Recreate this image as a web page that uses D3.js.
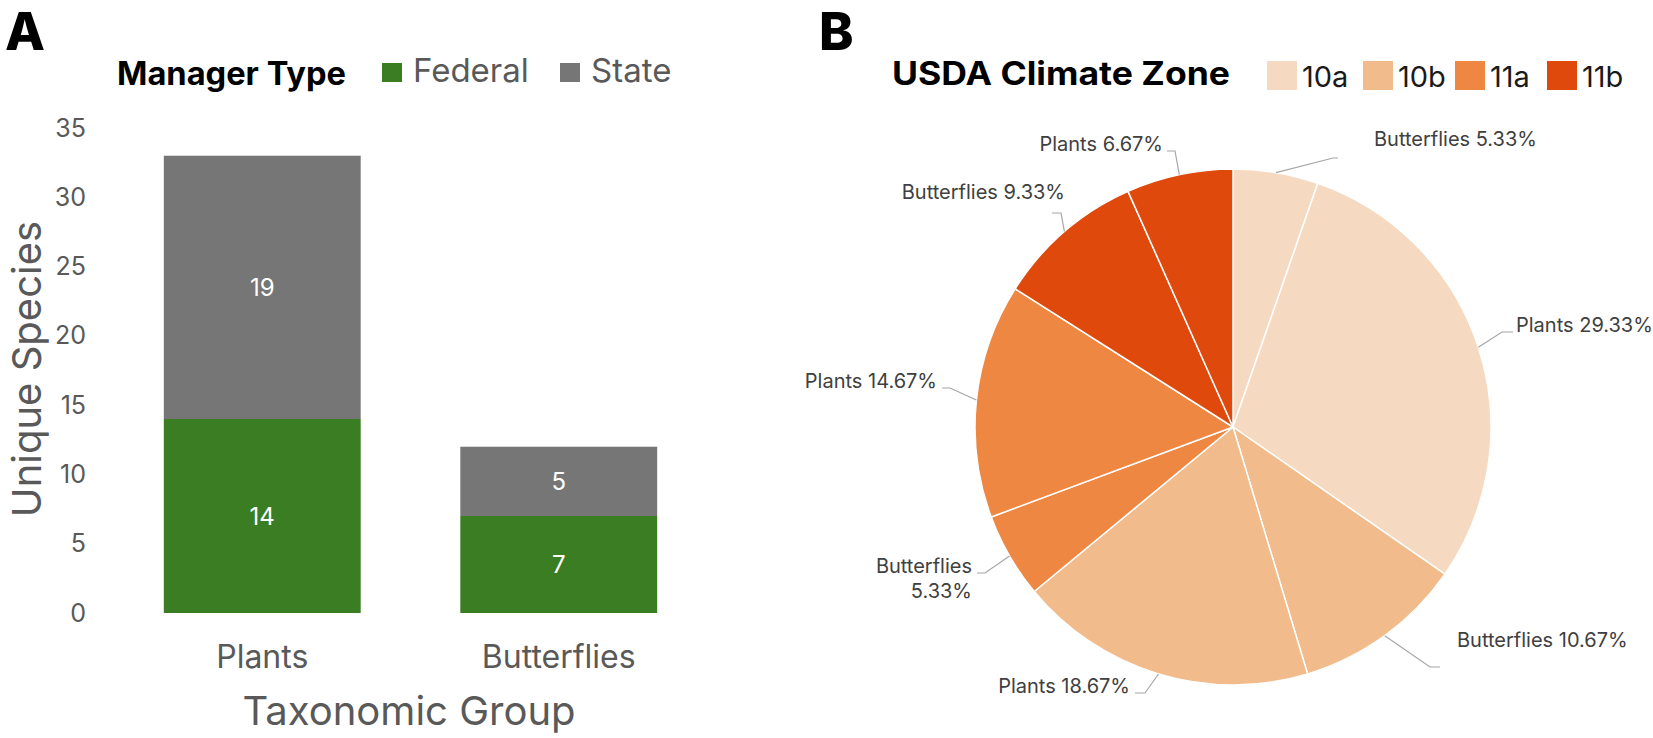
<!DOCTYPE html>
<html>
<head>
<meta charset="utf-8">
<script src="https://cdn.jsdelivr.net/npm/d3@7"></script>
<style>
  html, body { margin: 0; padding: 0; background: #fff; }
  svg { display: block; }
  text { font-family: Inter, "Open Sans", sans-serif; }
</style>
</head>
<body>
<svg id="chart" width="1653" height="738"></svg>
<script>
// ---------- Data ----------
const groups = ["Plants", "Butterflies"];
const managerTypes = ["Federal", "State"];
const federalValues = [14, 7];
const stateValues = [19, 5];
const yTicks = [0, 5, 10, 15, 20, 25, 30, 35];

const zones = ["10a", "10b", "11a", "11b"];
const sliceZones = ["10a", "10a", "10b", "10b", "11a", "11a", "11b", "11b"];
const sliceGroups = ["Butterflies", "Plants", "Butterflies", "Plants", "Butterflies", "Plants", "Butterflies", "Plants"];
const slicePercents = [5.33, 29.33, 10.67, 18.67, 5.33, 14.67, 9.33, 6.67];

// ---------- Styles ----------
const barColors = { Federal: "#3b7d23", State: "#767676" };
const zoneColors = { "10a": "#f6d9c1", "10b": "#f1bb8b", "11a": "#ee8742", "11b": "#e0490c" };

const svg = d3.select("#chart");

// Panel letters
svg.append("text").attr("x", 5).attr("y", 50).text("A")
  .style("font-weight", 800).style("font-size", "52px").attr("fill", "#000");
svg.append("text").attr("x", 819).attr("y", 50).text("B")
  .style("font-weight", 800).style("font-size", "52px").attr("fill", "#000");

// ---------- Panel A: stacked bars ----------
const y = d3.scaleLinear().domain([0, 35]).range([613, 128]);
const x = d3.scaleBand().domain(groups).range([114, 707]).paddingInner(0.336).paddingOuter(0.168);

const stackData = groups.map((g, i) => ({ group: g, Federal: federalValues[i], State: stateValues[i] }));
const series = d3.stack().keys(managerTypes)(stackData);

const gBars = svg.append("g");
series.forEach(s => {
  gBars.selectAll(null).data(s).enter().append("rect")
    .attr("x", d => x(d.data.group))
    .attr("width", x.bandwidth())
    .attr("y", d => y(d[1]))
    .attr("height", d => y(d[0]) - y(d[1]))
    .attr("fill", barColors[s.key]);
  gBars.selectAll(null).data(s).enter().append("text")
    .attr("x", d => x(d.data.group) + x.bandwidth() / 2)
    .attr("y", d => y((d[0] + d[1]) / 2))
    .attr("dy", "0.36em")
    .attr("text-anchor", "middle")
    .attr("fill", "#fff")
    .style("font-size", "24px")
    .text(d => d[1] - d[0]);
});

// Y axis
const yAxis = d3.axisLeft(y).tickValues(yTicks).tickSize(0).tickPadding(8);
const gy = svg.append("g").attr("transform", "translate(94,0)").call(yAxis);
gy.select(".domain").remove();
gy.selectAll("text").style("font-family", "Inter, sans-serif").style("font-size", "25px").attr("fill", "#595959");

// X axis labels
const xAxis = d3.axisBottom(x).tickSize(0).tickPadding(0);
const gx = svg.append("g").attr("transform", "translate(0,645)").call(xAxis);
gx.select(".domain").remove();
gx.selectAll("text").style("font-family", "Inter, sans-serif").style("font-size", "32px")
  .attr("fill", "#595959").attr("dy", "0.71em");

// Axis titles
svg.append("text").attr("x", 409).attr("y", 725).attr("text-anchor", "middle")
  .style("font-size", "40px").attr("fill", "#595959").text("Taxonomic Group");
svg.append("text").attr("transform", "translate(41,369) rotate(-90)").attr("text-anchor", "middle")
  .style("font-size", "40px").attr("fill", "#595959").text("Unique Species");

// Legend A
svg.append("text").attr("x", 117).attr("y", 85).text("Manager Type")
  .style("font-weight", 700).style("font-size", "32px").attr("fill", "#000")
  .attr("textLength", 229).attr("lengthAdjust", "spacingAndGlyphs");
const legAswatchX = [382, 560];
managerTypes.forEach((m, i) => {
  svg.append("rect").attr("x", legAswatchX[i]).attr("y", 63).attr("width", 20).attr("height", 19).attr("fill", barColors[m]);
  svg.append("text").attr("x", legAswatchX[i] + 31).attr("y", 82).style("font-size", "33px").attr("fill", "#595959").text(m);
});

// ---------- Panel B: pie ----------
const cx = 1233, cy = 427, R = 258;
const pieData = slicePercents.map((p, i) => ({ value: p, zone: sliceZones[i], group: sliceGroups[i] }));
const pie = d3.pie().sort(null).value(d => d.value);
const arcs = pie(pieData);
const arc = d3.arc().innerRadius(0).outerRadius(R);

const gPie = svg.append("g").attr("transform", `translate(${cx},${cy})`);
gPie.selectAll("path").data(arcs).enter().append("path")
  .attr("d", arc)
  .attr("fill", d => zoneColors[d.data.zone])
  .attr("stroke", "#fff").attr("stroke-width", 1.5).attr("stroke-linejoin", "round");

// Label layout (elbow & text placement relative to pie centre)
const labelLayout = [
  { ex: 100, ey: -269, hx: 105, tx: 141, ty: -281, anchor: "start" },
  { ex: 269, ey: -95, hx: 280, tx: 283, ty: -95, anchor: "start" },
  { ex: 197, ey: 240, hx: 207, tx: 224, ty: 220, anchor: "start" },
  { ex: -88, ey: 266, hx: -98, tx: -103, ty: 266, anchor: "end" },
  { ex: -248, ey: 146, hx: -256, tx: -261, ty: 146, anchor: "end", wrap: true },
  { ex: -283, ey: -39, hx: -291, tx: -296, ty: -39, anchor: "end" },
  { ex: -172, ey: -214, hx: -181, tx: -168, ty: -228, anchor: "end" },
  { ex: -58, ey: -276, hx: -66, tx: -70, ty: -276, anchor: "end" }
];

arcs.forEach((a, i) => {
  const L = labelLayout[i];
  const mid = (a.startAngle + a.endAngle) / 2;
  const px = R * Math.sin(mid), py = -R * Math.cos(mid);
  gPie.append("polyline")
    .attr("points", `${px},${py} ${L.ex},${L.ey} ${L.hx},${L.ey}`)
    .attr("fill", "none").attr("stroke", "#a6a6a6").attr("stroke-width", 1.2);
  const pct = `${a.data.value.toFixed(2)}%`;
  const t = gPie.append("text").attr("x", L.tx).attr("y", L.ty).attr("text-anchor", L.anchor)
    .style("font-size", "20px").attr("fill", "#404040");
  if (L.wrap) {
    t.append("tspan").attr("x", L.tx).attr("dy", 0).text(a.data.group);
    t.append("tspan").attr("x", L.tx).attr("dy", 25).text(pct);
  } else {
    t.text(`${a.data.group} ${pct}`);
  }
});

// Legend B
svg.append("text").attr("x", 892).attr("y", 85).text("USDA Climate Zone")
  .style("font-weight", 700).style("font-size", "32px").attr("fill", "#000")
  .attr("textLength", 338).attr("lengthAdjust", "spacingAndGlyphs");
const legBx = [1267, 1363, 1455, 1547];
zones.forEach((z, i) => {
  svg.append("rect").attr("x", legBx[i]).attr("y", 61).attr("width", 30).attr("height", 29).attr("fill", zoneColors[z]);
  svg.append("text").attr("x", legBx[i] + 35).attr("y", 87).style("font-size", "29px").attr("fill", "#1a1a1a").text(z);
});
</script>
</body>
</html>
